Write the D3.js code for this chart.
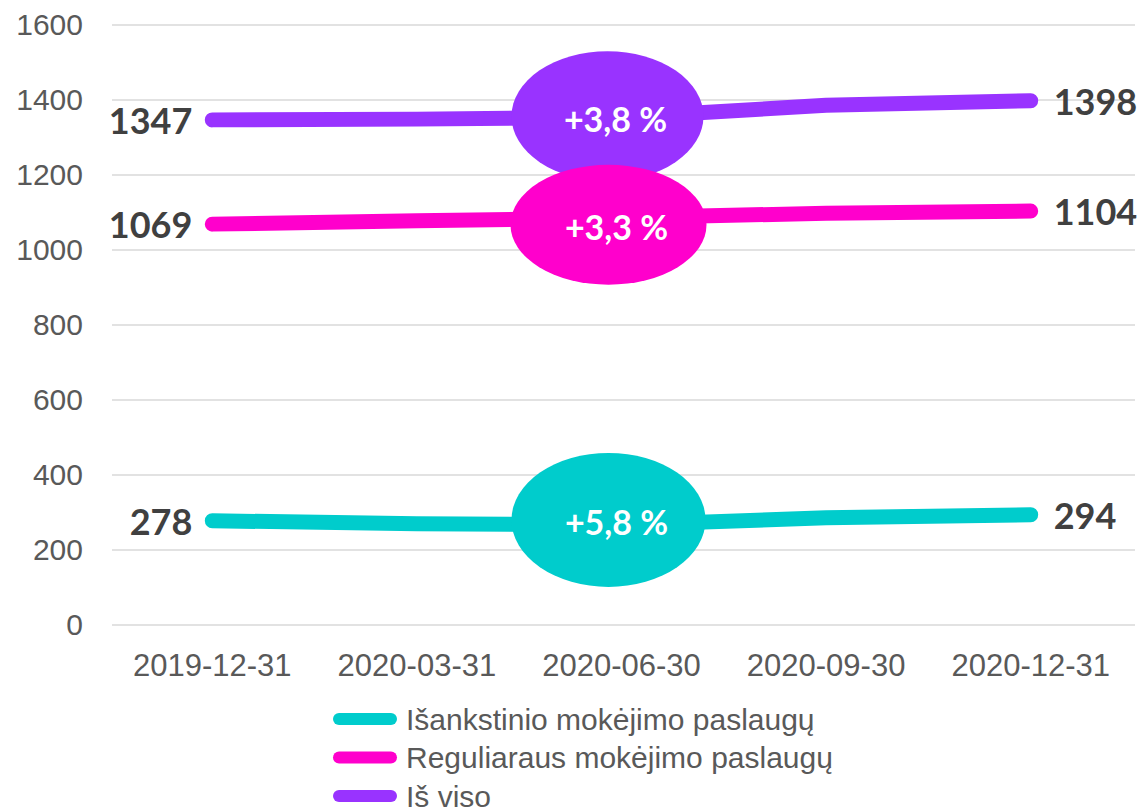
<!doctype html>
<html lang="lt">
  <head>
    <meta charset="utf-8">
    <script src="https://d3js.org/d3.v7.min.js"></script>
    <title>Paslaugų skaičius</title>
    <style>
      body { margin: 0; background: #fff; }
      svg { display: block; }
    </style>
  </head>
  <body>
    <svg id="chart" width="1145" height="808"></svg>

<script>
// data
var dates = ["2019-12-31", "2020-03-31", "2020-06-30", "2020-09-30", "2020-12-31"];
var prepaid = [278, 270, 267, 286, 294];
var regular = [1069, 1078, 1086, 1098, 1104];
var total = [1347, 1349, 1354, 1386, 1398];
var seriesNames = ["Išankstinio mokėjimo paslaugų", "Reguliaraus mokėjimo paslaugų", "Iš viso"];
var changes = ["+5,8 %", "+3,3 %", "+3,8 %"];
var yTicks = [0, 200, 400, 600, 800, 1000, 1200, 1400, 1600];

var colors = ["#00cccc", "#ff00cc", "#9933ff"];
// bubble tweaks (offset from the 2020-06-30 point, radii)
var bubble = [
  {dx: -13, dy: -5, rx: 97, ry: 67},
  {dx: -13, dy: 7, rx: 98, ry: 60},
  {dx: -14, dy: -1, rx: 96, ry: 65}
];

var svg = d3.select("#chart");
var x = d3.scaleBand().domain(dates).range([110, 1133]);
var y = d3.scaleLinear().domain([0, 1600]).range([625, 25]);
var cx = function(d) { return x(d) + x.bandwidth() / 2; };

// grid
svg.append("g").selectAll("line").data(yTicks).enter().append("line")
  .attr("x1", 112).attr("x2", 1135)
  .attr("y1", function(d) { return y(d); }).attr("y2", function(d) { return y(d); })
  .attr("stroke", "#d9d9d9").attr("stroke-width", 1.5);

// y axis
var yAxis = svg.append("g").attr("transform", "translate(83,0)")
  .call(d3.axisLeft(y).tickValues(yTicks).tickFormat(d3.format("d")).tickSize(0).tickPadding(0));
yAxis.select(".domain").remove();
yAxis.selectAll("text").attr("font-family", "Liberation Sans, Arial, sans-serif")
  .attr("font-size", 30).attr("fill", "#595959");

// x axis
var xAxis = svg.append("g").attr("transform", "translate(0,648)")
  .call(d3.axisBottom(x).tickSize(0).tickPadding(0));
xAxis.select(".domain").remove();
xAxis.selectAll("text").attr("font-family", "Liberation Sans, Arial, sans-serif")
  .attr("font-size", 31).attr("fill", "#595959").attr("dy", "0.9em");

var series = [prepaid, regular, total];
var line = d3.line().x(function(d, i) { return cx(dates[i]); }).y(function(d) { return y(d); });

series.forEach(function(vals, k) {
  svg.append("path").datum(vals)
    .attr("d", line)
    .attr("fill", "none").attr("stroke", colors[k]).attr("stroke-width", 15)
    .attr("stroke-linecap", "round").attr("stroke-linejoin", "round");

  // end labels
  svg.append("text").text(vals[0])
    .attr("x", cx(dates[0]) - 20).attr("y", y(vals[0]))
    .attr("text-anchor", "end").attr("dominant-baseline", "central")
    .attr("font-family", "Lato, sans-serif").attr("font-weight", "bold")
    .attr("font-size", 36).attr("fill", "#404040");
  svg.append("text").text(vals[vals.length - 1])
    .attr("x", cx(dates[dates.length - 1]) + 23).attr("y", y(vals[vals.length - 1]))
    .attr("text-anchor", "start").attr("dominant-baseline", "central")
    .attr("font-family", "Lato, sans-serif").attr("font-weight", "bold")
    .attr("font-size", 36).attr("fill", "#404040");
});

// change bubbles: total first so regular sits on top of it
[0, 2, 1].forEach(function(k) {
  var b = bubble[k];
  var px = cx(dates[2]) + b.dx, py = y(series[k][2]) + b.dy;
  svg.append("ellipse").attr("cx", px).attr("cy", py)
    .attr("rx", b.rx).attr("ry", b.ry).attr("fill", colors[k]);
  svg.append("text").text(changes[k])
    .attr("x", px + 8).attr("y", py + 2)
    .attr("text-anchor", "middle").attr("dominant-baseline", "central")
    .attr("font-family", "Lato, sans-serif").attr("font-weight", "bold")
    .attr("font-size", 34).attr("fill", "#fff");
});

// legend
var legend = svg.append("g").selectAll("g").data(seriesNames).enter().append("g")
  .attr("transform", function(d, i) { return "translate(339," + (719 + i * 38.5) + ")"; });
legend.append("line").attr("x1", 0).attr("x2", 52)
  .attr("stroke", function(d, i) { return colors[i]; })
  .attr("stroke-width", 12).attr("stroke-linecap", "round");
legend.append("text").text(function(d) { return d; })
  .attr("x", 67).attr("dominant-baseline", "central")
  .attr("font-family", "Liberation Sans, Arial, sans-serif")
  .attr("font-size", 30).attr("fill", "#595959");
</script>
  </body>
</html>
